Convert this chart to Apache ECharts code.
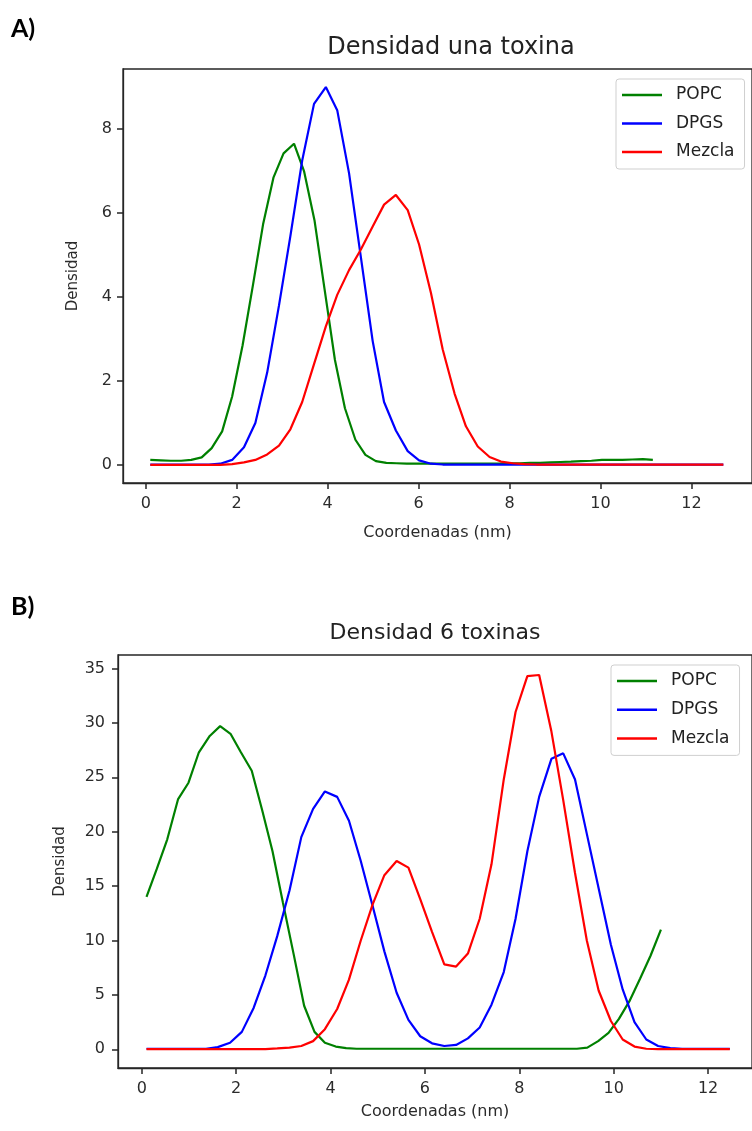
<!DOCTYPE html>
<html><head><meta charset="utf-8">
<script src="https://cdn.jsdelivr.net/npm/echarts@6/dist/echarts.min.js"></script>
<style>html,body{margin:0;padding:0;background:#fff}#c{width:752px;height:1131px}</style>
</head><body><div id="c"></div>
<script>
// ---------- data ----------
const seriesNames = ['POPC', 'DPGS', 'Mezcla'];
const titleA = 'Densidad una toxina';
const titleB = 'Densidad 6 toxinas';
const xName = 'Coordenadas (nm)';
const yName = 'Densidad';
const xTicksA = [0, 2, 4, 6, 8, 10, 12];
const yTicksA = [0, 2, 4, 6, 8];
const xTicksB = [0, 2, 4, 6, 8, 10, 12];
const yTicksB = [0, 5, 10, 15, 20, 25, 30, 35];

// Panel A (una toxina)
const xA_popc = [0.10,0.33,0.55,0.78,1.00,1.23,1.45,1.68,1.90,2.13,2.36,2.58,2.81,3.03,3.26,3.48,3.71,3.93,4.16,4.38,4.61,4.83,5.06,5.29,5.51,5.74,5.96,6.19,6.41,6.64,6.87,7.09,7.32,7.54,7.77,7.99,8.22,8.45,8.67,8.90,9.12,9.35,9.57,9.80,10.03,10.25,10.48,10.70,10.93,11.15];
const yA_popc = [0.12,0.11,0.10,0.10,0.12,0.18,0.40,0.80,1.63,2.85,4.30,5.73,6.85,7.42,7.65,7.00,5.83,4.20,2.50,1.35,0.60,0.24,0.09,0.05,0.04,0.03,0.03,0.03,0.03,0.03,0.03,0.03,0.03,0.03,0.03,0.04,0.04,0.05,0.05,0.06,0.07,0.08,0.09,0.10,0.12,0.12,0.12,0.13,0.14,0.12];
const xA_grid = [0.10,0.36,0.61,0.87,1.13,1.39,1.64,1.90,2.16,2.41,2.67,2.93,3.18,3.44,3.70,3.96,4.21,4.47,4.73,4.99,5.24,5.50,5.76,6.01,6.27,6.53,6.79,7.04,7.30,7.56,7.81,8.07,8.33,8.59,8.84,9.10,9.36,9.61,9.87,10.13,10.39,10.64,10.90,11.16,11.41,11.67,11.93,12.19,12.44,12.70];
const yA_dpgs = [0.01,0.01,0.01,0.01,0.01,0.01,0.03,0.12,0.42,1.00,2.20,3.80,5.45,7.25,8.60,9.00,8.45,6.95,4.95,2.95,1.50,0.82,0.33,0.11,0.03,0.01,0.01,0.01,0.01,0.01,0.01,0.01,0.01,0.01,0.01,0.01,0.01,0.01,0.01,0.01,0.01,0.01,0.01,0.01,0.01,0.01,0.01,0.01,0.01,0.01];
const yA_mezcla = [0.00,0.00,0.00,0.00,0.00,0.00,0.00,0.02,0.06,0.12,0.25,0.46,0.85,1.50,2.40,3.30,4.05,4.64,5.13,5.68,6.20,6.43,6.07,5.25,4.10,2.75,1.70,0.92,0.44,0.19,0.08,0.04,0.02,0.01,0.01,0.01,0.01,0.01,0.01,0.01,0.01,0.01,0.01,0.01,0.01,0.01,0.01,0.01,0.01,0.01];

// Panel B (6 toxinas)
const xB_popc = [0.10,0.32,0.54,0.77,0.99,1.21,1.44,1.66,1.88,2.10,2.33,2.55,2.77,2.99,3.22,3.44,3.66,3.88,4.11,4.33,4.55,4.77,5.00,5.22,5.44,5.66,5.89,6.11,6.33,6.55,6.78,7.00,7.22,7.44,7.66,7.89,8.11,8.33,8.55,8.78,9.00,9.22,9.44,9.67,9.89,10.11,10.33,10.56,10.78,11.00];
const yB_popc = [14.0,16.6,19.3,23.0,24.5,27.3,28.8,29.7,29.0,27.3,25.6,22.0,18.2,13.5,8.7,4.0,1.6,0.6,0.25,0.10,0.05,0.05,0.05,0.05,0.05,0.05,0.05,0.05,0.05,0.05,0.05,0.05,0.05,0.05,0.05,0.05,0.05,0.05,0.05,0.05,0.05,0.05,0.15,0.75,1.5,2.8,4.4,6.5,8.6,11.0];
const xB_grid = [0.10,0.35,0.60,0.86,1.11,1.36,1.61,1.87,2.12,2.37,2.62,2.87,3.13,3.38,3.63,3.88,4.14,4.39,4.64,4.89,5.14,5.40,5.65,5.90,6.15,6.41,6.66,6.91,7.16,7.41,7.67,7.92,8.17,8.42,8.68,8.93,9.18,9.43,9.68,9.94,10.19,10.44,10.69,10.94,11.20,11.45,11.70,11.95,12.21,12.46];
const yB_dpgs = [0.05,0.05,0.05,0.05,0.05,0.05,0.2,0.6,1.6,3.8,6.8,10.4,14.6,19.5,22.1,23.7,23.2,21.0,17.3,13.2,9.0,5.2,2.7,1.2,0.55,0.3,0.4,1.0,2.0,4.1,7.1,12.0,18.2,23.2,26.7,27.2,24.8,19.8,14.8,9.6,5.5,2.5,0.9,0.3,0.1,0.05,0.05,0.05,0.05,0.05];
const yB_mezcla = [0.02,0.02,0.02,0.02,0.02,0.02,0.02,0.02,0.02,0.02,0.02,0.08,0.15,0.3,0.75,1.85,3.7,6.4,10.0,13.3,16.0,17.3,16.7,13.8,10.8,7.8,7.6,8.8,12.0,17.0,24.8,31.0,34.3,34.4,29.2,22.9,16.2,10.0,5.4,2.6,0.9,0.25,0.05,0.02,0.02,0.02,0.02,0.02,0.02,0.02];

// ---------- build ----------
const FONT = "'DejaVu Sans', sans-serif";
const colors = ['#008000', '#0000ff', '#ff0000'];
const pair = (xs, ys) => xs.map((x, i) => [x, ys[i]]);
const AX = '#262626';

function xAxisCfg(grid, min, max, ticks, gap, margin) {
  return {
    gridIndex: grid, type: 'value', min: min, max: max, position: 'bottom',
    axisLine: { show: true, onZero: false, lineStyle: { color: AX, width: 1.3 } }, splitLine: { show: false },
    axisTick: { show: true, inside: false, customValues: ticks, length: 6, lineStyle: { color: AX, width: 1.5 } },
    axisLabel: { customValues: ticks, margin: margin, fontSize: 16, color: '#2b2b2b', fontFamily: FONT },
    name: xName, nameLocation: 'middle', nameGap: gap,
    nameTextStyle: { fontSize: 16, color: '#2b2b2b', fontFamily: FONT }
  };
}
function yAxisCfg(grid, min, max, ticks, gap, margin) {
  return {
    gridIndex: grid, type: 'value', min: min, max: max, position: 'left',
    axisLine: { show: true, onZero: false, lineStyle: { color: AX, width: 1.3 } }, splitLine: { show: false },
    axisTick: { show: true, inside: false, customValues: ticks, length: 6, lineStyle: { color: AX, width: 1.5 } },
    axisLabel: { customValues: ticks, margin: margin, fontSize: 16, color: '#2b2b2b', fontFamily: FONT },
    name: yName, nameLocation: 'middle', nameGap: gap, nameRotate: 90,
    nameTextStyle: { fontSize: 15, color: '#2b2b2b', fontFamily: FONT }
  };
}
function line(name, data, idx, color) {
  return {
    name: name, type: 'line', data: data, xAxisIndex: idx, yAxisIndex: idx,
    showSymbol: false, symbol: 'none', smooth: false,
    lineStyle: { color: color, width: 2.2 }, itemStyle: { color: color },
    emphasis: { disabled: true }, z: 3
  };
}
function legendCfg(left, top, gap) {
  return {
    orient: 'vertical', left: left, top: top, data: seriesNames,
    icon: 'rect', itemWidth: 40, itemHeight: 2.5, itemGap: gap,
    padding: [7, 10, 8, 6], borderColor: '#cfcfcf', borderWidth: 1, borderRadius: 3,
    backgroundColor: 'rgba(255,255,255,0.85)', selectedMode: false,
    textStyle: { fontSize: 17, color: '#222', fontFamily: FONT, lineHeight: 18, padding: [0, 0, 0, 9] }
  };
}

const chart = echarts.init(document.getElementById('c'), null, { renderer: 'canvas' });
chart.setOption({
  animation: false,
  backgroundColor: '#fff',
  grid: [
    { left: 123, top: 69, width: 636, height: 414, show: true, borderColor: AX, borderWidth: 1.3, containLabel: false },
    { left: 118, top: 655, width: 634, height: 413, show: true, borderColor: AX, borderWidth: 1.3, containLabel: false }
  ],
  xAxis: [xAxisCfg(0, -0.5, 13.33, xTicksA, 42, 13), xAxisCfg(1, -0.504, 12.93, xTicksB, 36, 13)],
  yAxis: [yAxisCfg(0, -0.43, 9.43, yTicksA, 42, 11), yAxisCfg(1, -1.72, 36.24, yTicksB, 50, 13)],
  legend: [legendCfg(616, 79, 10.5), legendCfg(611, 665, 10.7)],
  series: [
    line(seriesNames[0], pair(xA_popc, yA_popc), 0, colors[0]),
    line(seriesNames[1], pair(xA_grid, yA_dpgs), 0, colors[1]),
    line(seriesNames[2], pair(xA_grid, yA_mezcla), 0, colors[2]),
    line(seriesNames[0], pair(xB_popc, yB_popc), 1, colors[0]),
    line(seriesNames[1], pair(xB_grid, yB_dpgs), 1, colors[1]),
    line(seriesNames[2], pair(xB_grid, yB_mezcla), 1, colors[2])
  ],
  graphic: [
    { type: 'text', left: 11, top: 16, style: { text: 'A)', font: "bold 25px Lato, 'Open Sans', sans-serif", fill: '#000' } },
    { type: 'text', left: 11, top: 594, style: { text: 'B)', font: "bold 25px Lato, 'Open Sans', sans-serif", fill: '#000' } },
    { type: 'text', x: 451, y: 48, style: { text: titleA, font: "24px 'DejaVu Sans', sans-serif", fill: '#222', textAlign: 'center', textVerticalAlign: 'middle' } },
    { type: 'text', x: 435, y: 633, style: { text: titleB, font: "22px 'DejaVu Sans', sans-serif", fill: '#222', textAlign: 'center', textVerticalAlign: 'middle' } }
  ]
});
</script></body></html>
